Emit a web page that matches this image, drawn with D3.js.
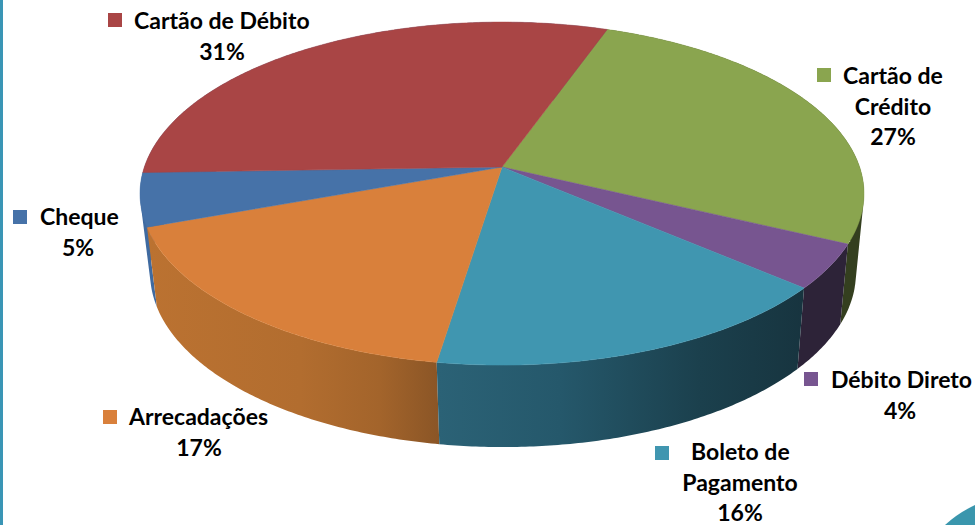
<!DOCTYPE html>
<html>
<head>
<meta charset="utf-8">
<script src="https://cdn.jsdelivr.net/npm/d3@7"></script>
<style>
  html, body { margin: 0; padding: 0; background: #fff; }
  svg { display: block; }
  text { font-family: Lato, "Open Sans", sans-serif; font-weight: 700; font-size: 23px; fill: #000; }
</style>
</head>
<body>
<svg id="chart" width="975" height="525"></svg>
<script>
// clockwise from the top right edge of the red slice
var categories = ['Cartão de Crédito', 'Débito Direto', 'Boleto de Pagamento', 'Arrecadações', 'Cheque', 'Cartão de Débito']
var shares = [26.6, 4.2, 16.2, 17.0, 5.0, 31.0]
var topColors = ['#8aa54f', '#775590', '#4096b0', '#d9803b', '#4672a8', '#a94545']
var sideColors = ['#343f1f', '#2d2338', 'url(#boleto-side)', 'url(#arrec-side)', '#3f6aa0', '#3f6aa0']

var svg = d3.select('#chart')

// pie tilted in perspective: k pulls the far rim in, so apex sits above the ellipse middle
var cx = 502, cy = 167, rx = 357.6, ry = 167.4, k = 0.155
var depth = 79, bottomX = 0.975, bottomY = 1.015, bottomShift = 1

function rimTop(a) {
  var w = 1 + k * Math.cos(a)
  return [cx + rx * Math.sin(a) / w, cy - ry * Math.cos(a) / w]
}

function rimBottom(a) {
  var w = 1 + k * Math.cos(a)
  return [cx + bottomShift + bottomX * rx * Math.sin(a) / w, cy + depth - bottomY * ry * Math.cos(a) / w]
}

function sweep(a0, a1) {
  var n = Math.ceil((a1 - a0) / 0.01)
  return d3.range(n + 1).map(function(i) { return a0 + (a1 - a0) * i / n })
}

var pie = d3.pie().sort(null)
  .startAngle(19.7 * Math.PI / 180)
  .endAngle((360 + 19.7) * Math.PI / 180)

var slices = pie(shares)
var line = d3.line()

// gradients on the front wall
var defs = svg.append('defs')
function sideGradient(id, stops) {
  defs.append('linearGradient')
    .attr('id', id)
    .attr('gradientUnits', 'userSpaceOnUse')
    .attr('x1', stops[0][0]).attr('x2', stops[stops.length - 1][0])
    .attr('y1', 0).attr('y2', 0)
    .selectAll('stop')
    .data(stops).enter().append('stop')
      .attr('offset', function(d) { return (d[0] - stops[0][0]) / (stops[stops.length - 1][0] - stops[0][0]) })
      .attr('stop-color', function(d) { return d[1] })
}
sideGradient('boleto-side', [[438, '#2b6276'], [560, '#25586b'], [700, '#1b404d'], [805, '#17343f']])
sideGradient('arrec-side', [[148, '#bb7231'], [300, '#b26d2f'], [380, '#a3642b'], [440, '#8a5526']])

// page frame
svg.append('rect')
  .attr('x', 0).attr('y', 0)
  .attr('width', 3).attr('height', 525)
  .attr('fill', '#3a95b5')
svg.append('path')
  .attr('d', 'M945,525 Q958,513 975,505 L975,525 Z')
  .attr('fill', '#3a96ad')

// one wall = many quads in a single path, all wound the same way, so no seams
// and the outline follows the straight line from top rim to bottom rim
function wallPath(d) {
  return d3.pairs(sweep(d.startAngle, d.endAngle)).map(function(p) {
    var quad = [rimTop(p[0]), rimTop(p[1]), rimBottom(p[1]), rimBottom(p[0])]
    if (d3.polygonArea(quad) < 0) quad.reverse()
    return line(quad) + 'Z'
  }).join('')
}

// walls, far ones first
svg.append('g').attr('class', 'sides')
  .selectAll('path')
  .data(slices.slice().sort(function(a, b) {
    return Math.cos((b.startAngle + b.endAngle) / 2) - Math.cos((a.startAngle + a.endAngle) / 2)
  }))
  .enter().append('path')
    .attr('d', wallPath)
    .attr('fill', function(d) { return sideColors[d.index] })

// top faces
svg.append('g').attr('class', 'tops')
  .selectAll('path')
  .data(slices).enter().append('path')
    .attr('d', function(d) {
      return line([[cx, cy]].concat(sweep(d.startAngle, d.endAngle).map(rimTop))) + 'Z'
    })
    .attr('fill', function(d) { return topColors[d.index] })
    .attr('stroke', function(d) { return topColors[d.index] })
    .attr('stroke-width', 0.5)

// labels: marker square plus centred lines
var labelLayout = [
  { marker: [817, 68], first: 843, center: 893, baseline: 84, wrap: true },
  { marker: [804, 372], first: 831, center: 900, baseline: 388 },
  { marker: [655, 446], first: 691, center: 740, baseline: 460, wrap: true },
  { marker: [103, 410], first: 129, center: 199, baseline: 425 },
  { marker: [13, 210], first: 40, center: 78, baseline: 225 },
  { marker: [108, 13], first: 134, center: 222, baseline: 29 }
]

var labels = svg.append('g').attr('class', 'labels')
  .selectAll('g')
  .data(labelLayout).enter().append('g')

labels.append('rect')
  .attr('x', function(d) { return d.marker[0] })
  .attr('y', function(d) { return d.marker[1] })
  .attr('width', 14).attr('height', 14)
  .attr('fill', function(d, i) { return topColors[i] })

labels.each(function(d, i) {
  var name = categories[i]
  var rows = d.wrap ? name.replace(' de ', ' de|').split('|') : [name]
  rows.push(Math.round(shares[i]) + '%')
  var g = d3.select(this)
  rows.forEach(function(row, r) {
    g.append('text')
      .attr('x', r == 0 ? d.first : d.center)
      .attr('y', d.baseline + r * 30.7)
      .attr('text-anchor', r == 0 ? 'start' : 'middle')
      .text(row)
  })
})
</script>
</body>
</html>
